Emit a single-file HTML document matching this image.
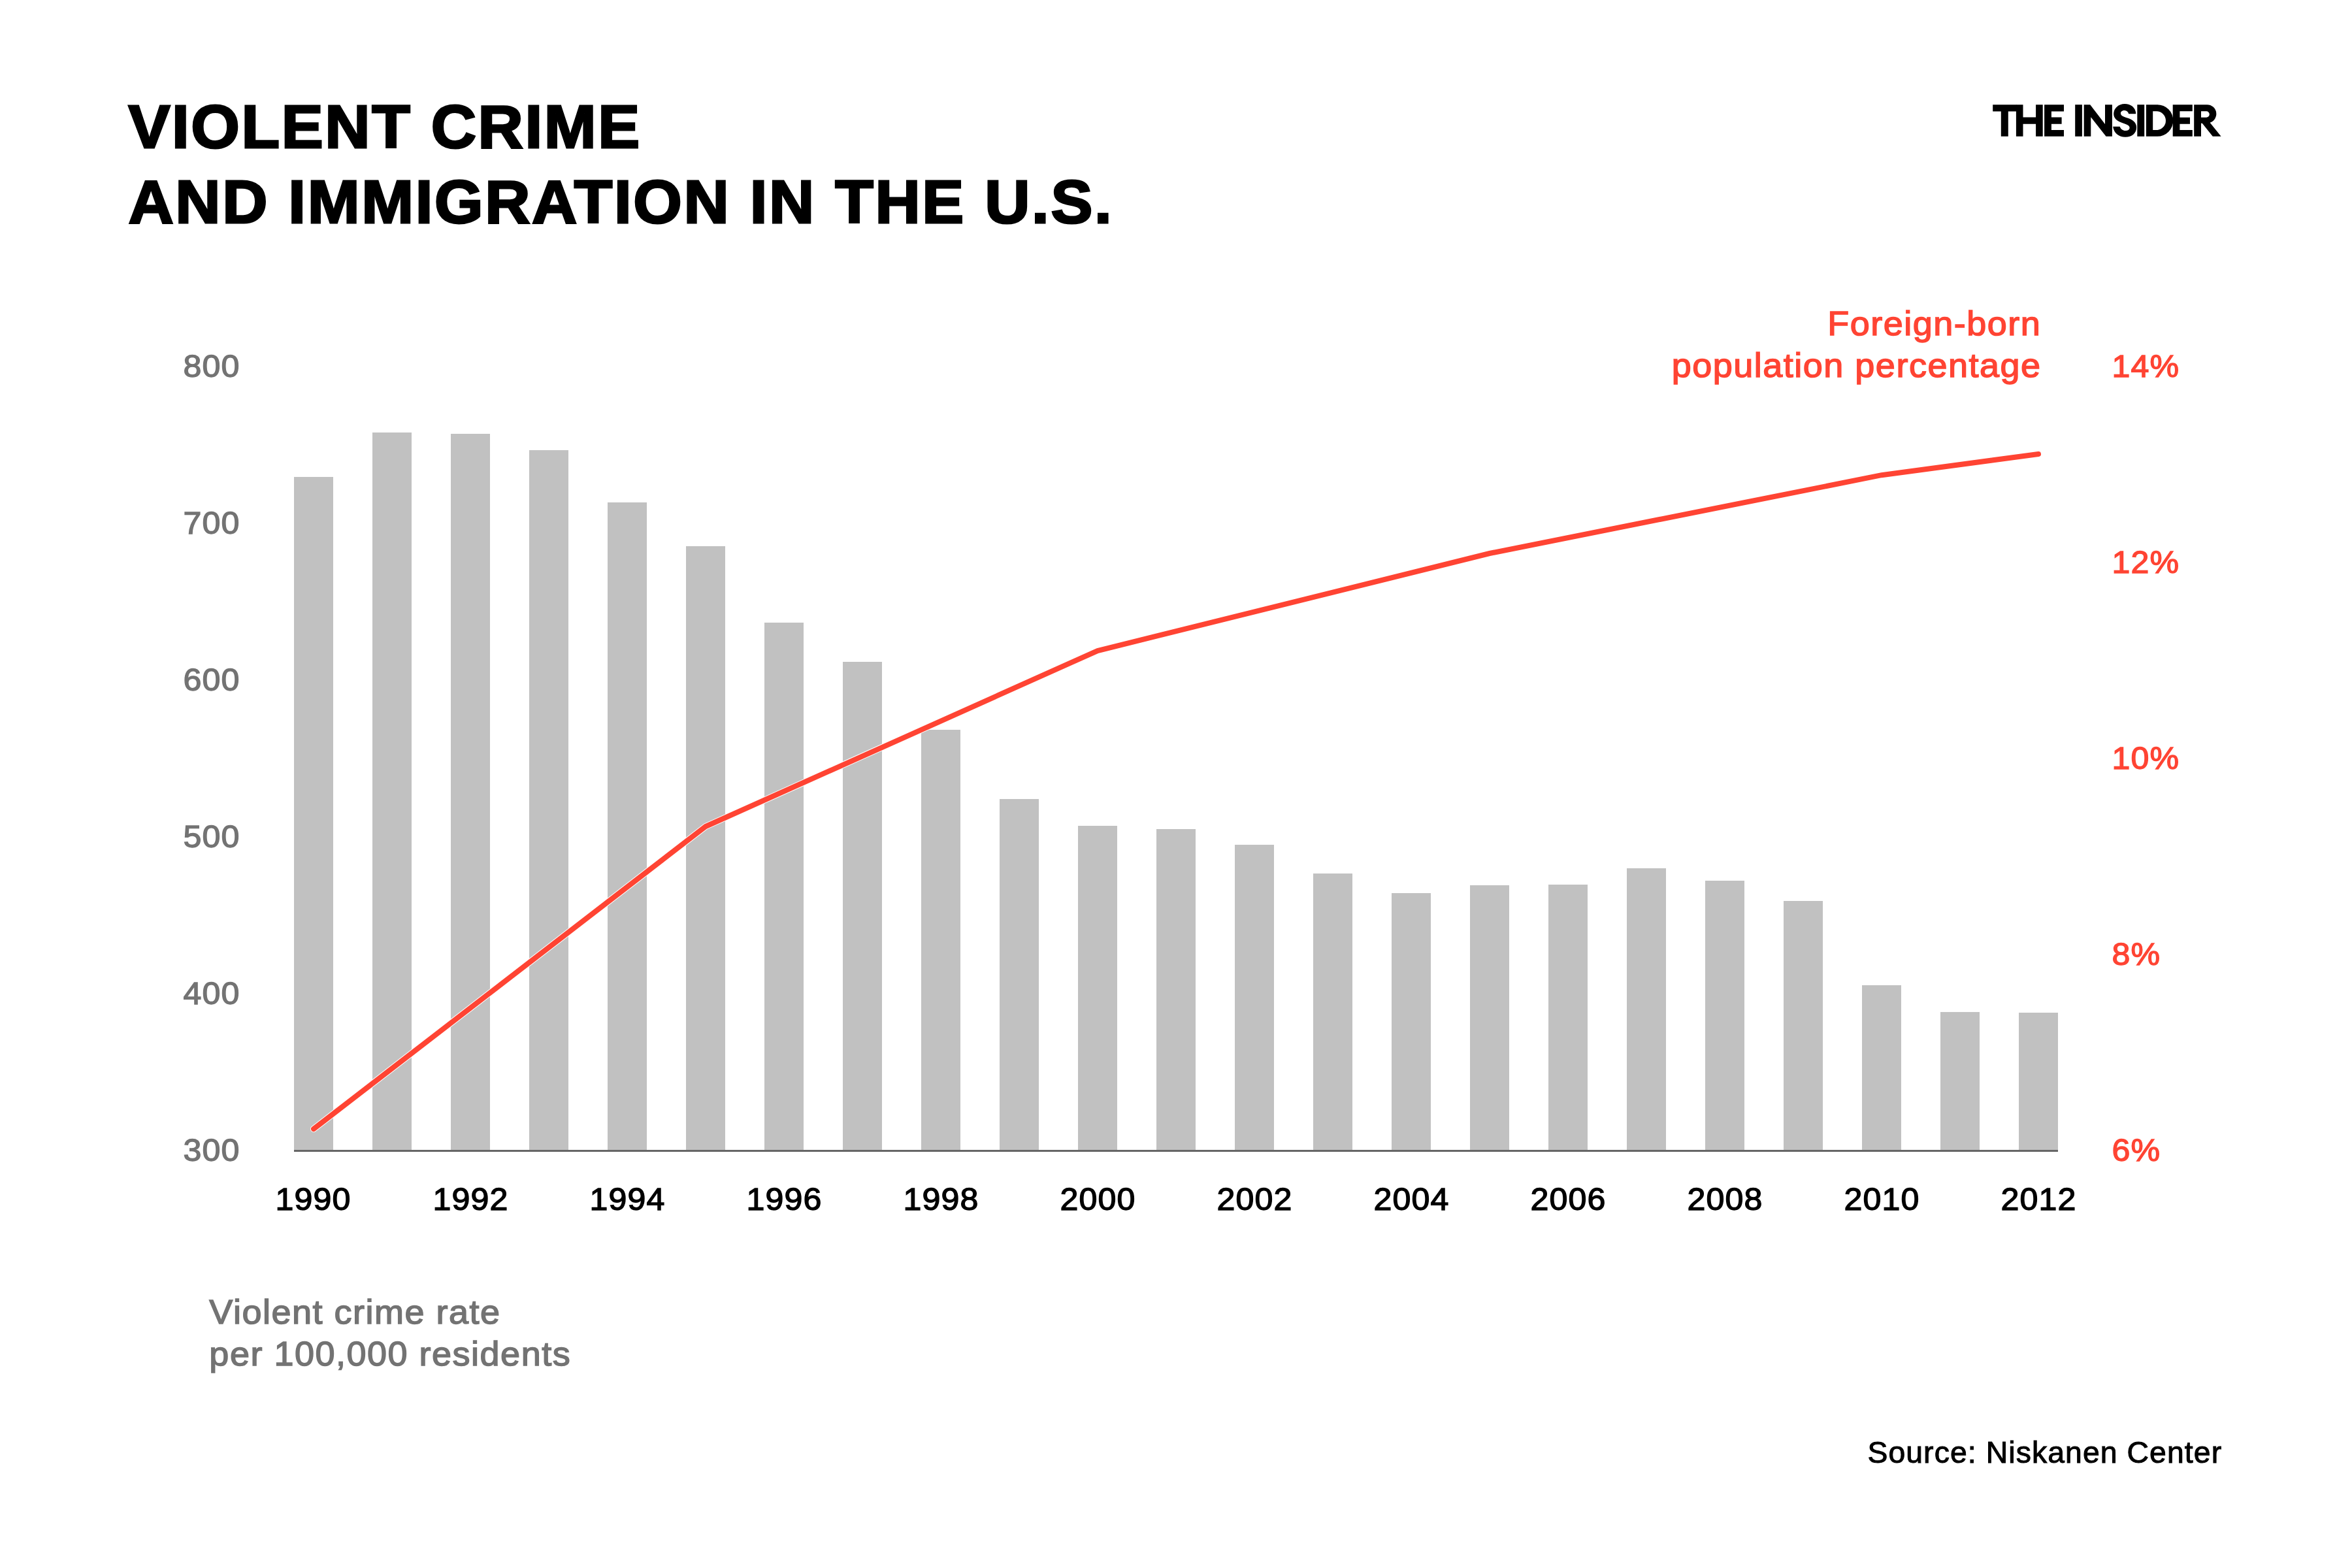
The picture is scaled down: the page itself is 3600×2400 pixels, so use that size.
<!DOCTYPE html>
<html><head><meta charset="utf-8"><title>Violent crime and immigration in the U.S.</title>
<style>
html,body{margin:0;padding:0;background:#fff;}
body{width:3600px;height:2400px;overflow:hidden;font-family:"Liberation Sans",sans-serif;}
svg{display:block;position:absolute;left:0;top:0;will-change:transform;}
text{font-family:"Liberation Sans",sans-serif;}
.title{font-weight:bold;font-size:93.1px;fill:#000;stroke:#000;stroke-width:2.95px;letter-spacing:2.6px;}
.ax{font-size:48.5px;stroke-width:1.35px;letter-spacing:1.053px;}
.yl{fill:#737373;stroke:#737373;}
.pl{fill:#FF4433;stroke:#FF4433;}
.xl{fill:#000;stroke:#000;}
.cap{font-size:52.5px;stroke-width:1.5px;letter-spacing:1.458px;}
.src{font-size:45.5px;fill:#000;stroke:#000;stroke-width:1px;letter-spacing:1.075px;}
</style></head><body>
<svg width="3600" height="2400" viewBox="0 0 3600 2400" role="img" aria-label="Bar and line chart: violent crime rate per 100,000 residents and foreign-born population percentage in the U.S., 1990-2012">
<rect width="3600" height="2400" fill="#fff"/>
<g class="title"><text transform="translate(196.4,226) scale(1.0295,1)">VIOLENT CRIME</text><text transform="translate(196.4,341) scale(1.0295,1)">AND IMMIGRATION IN THE U.S.</text></g>
<g id="logo" fill="#000"><path d="M3050.2,160.2H3086.4V170.4H3073.8V208.8H3062.8V170.4H3050.2Z"/>
<path d="M3085.9,160.2H3096.5V179.5H3116.1V160.2H3126.7V208.8H3116.1V189.7H3096.5V208.8H3085.9Z"/>
<path d="M3129.1,160.2H3159V170.4H3139.9V179.5H3155.6V189.7H3139.9V199H3159V208.8H3129.1Z"/>
<path d="M3176.2,160.2H3186.9V208.8H3176.2Z"/>
<path d="M3189.7,160.2H3199.2L3222,189.9V160.2H3232.9V208.8H3223.5L3200.3,179.2V208.8H3189.7Z"/>
<path d="M3269.1,174.3L3269.2,173C3268.5,164.5 3261.5,158.9 3252.1,158.9C3242.7,158.9 3235.2,165.5 3235.2,174.3C3235.2,181.5 3240.5,185.5 3249.5,188.6C3255.5,190.6 3259.6,192.3 3259.6,195.4C3259.6,198.3 3256.7,200 3253.1,200C3249.2,200 3246,197.5 3244.6,193.7H3234.1C3235.5,203.5 3243,209.8 3253.1,209.8C3263.3,209.8 3270.1,203.8 3270.1,194.9C3270.1,187.5 3264.5,183.2 3256,180.5C3249.5,178.3 3246,177 3246,173.4C3246,170.8 3248.5,169.1 3251.9,169.1C3255.2,169.1 3257.2,171.3 3258.2,174.3Z"/>
<path d="M3271.3,160.2H3282.2V208.8H3271.3Z"/>
<path fill-rule="evenodd" d="M3284.9,160.2H3302A24.3,24.3 0 0 1 3302,208.8H3284.9ZM3295.2,170.2H3300.5A14.45,14.45 0 0 1 3300.5,199.1H3295.2Z"/>
<path d="M3325.7,160.2H3355.8V170.3H3336.4V179.7H3352V189.8H3336.4V198.9H3355.8V208.8H3325.7Z"/>
<path fill-rule="evenodd" d="M3358.2,160.2H3378.3A14.1,14.1 0 0 1 3382.6,187.7L3399.6,208.8H3386.8L3370.8,188.8H3369V208.8H3358.2ZM3369,170.3H3377.1A4.7,4.7 0 0 1 3377.1,179.7H3369Z"/>
</g>
<g fill="#C1C1C1"><rect x="450" y="730" width="60" height="1030"/><rect x="570" y="662" width="60" height="1098"/><rect x="690" y="664" width="60" height="1096"/><rect x="810" y="689" width="60" height="1071"/><rect x="930" y="769" width="60" height="991"/><rect x="1050" y="836" width="60" height="924"/><rect x="1170" y="953" width="60" height="807"/><rect x="1290" y="1013" width="60" height="747"/><rect x="1410" y="1117" width="60" height="643"/><rect x="1530" y="1223" width="60" height="537"/><rect x="1650" y="1264" width="60" height="496"/><rect x="1770" y="1269" width="60" height="491"/><rect x="1890" y="1293" width="60" height="467"/><rect x="2010" y="1337" width="60" height="423"/><rect x="2130" y="1367" width="60" height="393"/><rect x="2250" y="1355" width="60" height="405"/><rect x="2370" y="1354" width="60" height="406"/><rect x="2490" y="1329" width="60" height="431"/><rect x="2610" y="1348" width="60" height="412"/><rect x="2730" y="1379" width="60" height="381"/><rect x="2850" y="1508" width="60" height="252"/><rect x="2970" y="1549" width="60" height="211"/><rect x="3090" y="1550" width="60" height="210"/></g>
<rect x="450" y="1760" width="2700" height="3" fill="#666666"/>
<polyline points="480,1728 1080,1265 1680,996 2280,847 2880,727.2 3120,695" fill="none" stroke="#fff" stroke-width="10" stroke-linecap="round" stroke-linejoin="miter"/>
<polyline points="480,1728 1080,1265 1680,996 2280,847 2880,727.2 3120,695" fill="none" stroke="#FF4433" stroke-width="8" stroke-linecap="round" stroke-linejoin="miter"/>
<g class="ax yl"><text transform="translate(280.6,577) scale(1.035,1)">800</text><text transform="translate(280.6,817) scale(1.035,1)">700</text><text transform="translate(280.6,1057) scale(1.035,1)">600</text><text transform="translate(280.6,1297) scale(1.035,1)">500</text><text transform="translate(280.6,1537) scale(1.035,1)">400</text><text transform="translate(280.6,1777) scale(1.035,1)">300</text></g>
<g class="ax pl"><text transform="translate(3232.6,577) scale(1.035,1)">14%</text><text transform="translate(3232.6,877) scale(1.035,1)">12%</text><text transform="translate(3232.6,1177) scale(1.035,1)">10%</text><text transform="translate(3232.6,1477) scale(1.035,1)">8%</text><text transform="translate(3232.6,1777) scale(1.035,1)">6%</text></g>
<g class="ax xl"><text transform="translate(421.5,1852) scale(1.035,1)">1990</text><text transform="translate(662.4,1852) scale(1.035,1)">1992</text><text transform="translate(902.4,1852) scale(1.035,1)">1994</text><text transform="translate(1142.4,1852) scale(1.035,1)">1996</text><text transform="translate(1382.4,1852) scale(1.035,1)">1998</text><text transform="translate(1622.4,1852) scale(1.035,1)">2000</text><text transform="translate(1862.4,1852) scale(1.035,1)">2002</text><text transform="translate(2102.4,1852) scale(1.035,1)">2004</text><text transform="translate(2342.4,1852) scale(1.035,1)">2006</text><text transform="translate(2582.4,1852) scale(1.035,1)">2008</text><text transform="translate(2822.4,1852) scale(1.035,1)">2010</text><text transform="translate(3062.4,1852) scale(1.035,1)">2012</text></g>
<g class="cap pl"><text transform="translate(2797.25,513) scale(1.0286,1)">Foreign-born</text><text transform="translate(2558.64,577) scale(1.0286,1)">population percentage</text></g>
<g class="cap yl"><text transform="translate(320.37,2026) scale(1.0286,1)">Violent crime rate</text><text transform="translate(320.37,2090) scale(1.0286,1)">per 100,000 residents</text></g>
<text class="src" transform="translate(2858.4,2239) scale(1.0187,1)">Source: Niskanen Center</text>
</svg>
</body></html>
